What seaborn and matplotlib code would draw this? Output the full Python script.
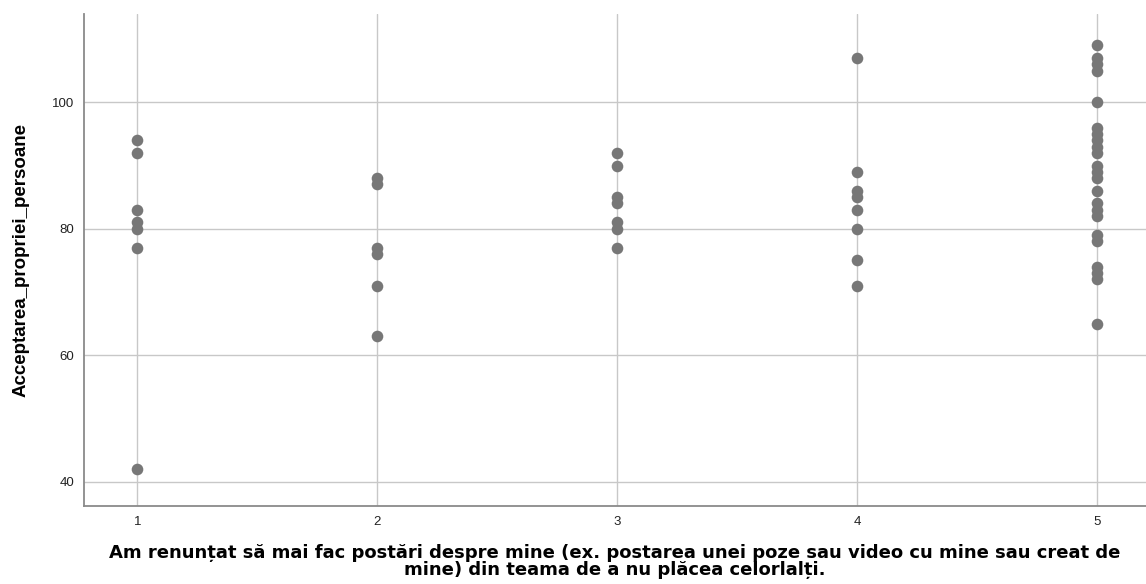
import numpy as np
import pandas as pd
import seaborn as sns
import matplotlib.pyplot as plt

# values, one list per answer level
level_1 = [94, 92, 83, 81, 80, 77, 42]
level_2 = [88, 87, 77, 76, 71, 63]
level_3 = [92, 90, 85, 84, 81, 80, 77]
level_4 = [107, 89, 86, 85, 83, 80, 75, 71]
level_5 = [109, 107, 106, 105, 100, 96, 95, 94, 93, 92, 90, 89, 88, 86,
           84, 83, 82, 79, 78, 74, 73, 72, 65]

x_ticks = [1, 2, 3, 4, 5]
y_ticks = [40, 60, 80, 100]

x_label = ("Am renunțat să mai fac postări despre mine (ex. postarea unei poze sau video cu mine sau creat de\n"
           "mine) din teama de a nu plăcea celorlalți.")
y_label = "Acceptarea_propriei_persoane"


def build_frame():
    rows = []
    for lvl, vals in zip(x_ticks, [level_1, level_2, level_3, level_4, level_5]):
        for v in vals:
            rows.append((lvl, v))
    return pd.DataFrame(rows, columns=["raspuns", "acceptare"])


def main():
    sns.set_style("white")
    plt.rcParams['font.family'] = ['Liberation Sans', 'DejaVu Sans']

    df = build_frame()

    fig = plt.figure(figsize=(11.46, 5.84), dpi=100)
    ax = fig.add_axes([0.0733, 0.1336, 0.9267, 0.842])

    sns.scatterplot(x="raspuns", y="acceptare", data=df, ax=ax,
                    color="#777777", s=70, linewidth=0, zorder=3)

    ax.set_xlim(0.778, 5.203)
    ax.set_ylim(36.2, 113.9)
    ax.set_xticks(x_ticks)
    ax.set_yticks(y_ticks)
    ax.grid(True, color="#c8c8c8", linewidth=1.0)
    ax.set_axisbelow(True)
    ax.tick_params(length=0, labelsize=9.5, colors="#222222", pad=7)

    for side in ["top", "right"]:
        ax.spines[side].set_visible(False)
    for side in ["left", "bottom"]:
        ax.spines[side].set_color("#8a8a8a")
        ax.spines[side].set_linewidth(1.3)

    # the reference label is wide, so use the wider DejaVu face
    ax.set_xlabel(x_label, fontsize=13, fontweight="bold", labelpad=12,
                  linespacing=0.92, family=["DejaVu Sans"], color="black")
    ax.set_ylabel(y_label, fontsize=13.5, fontweight="bold", labelpad=16,
                  color="black")

    fig.savefig("out.png", dpi=100)


main()
